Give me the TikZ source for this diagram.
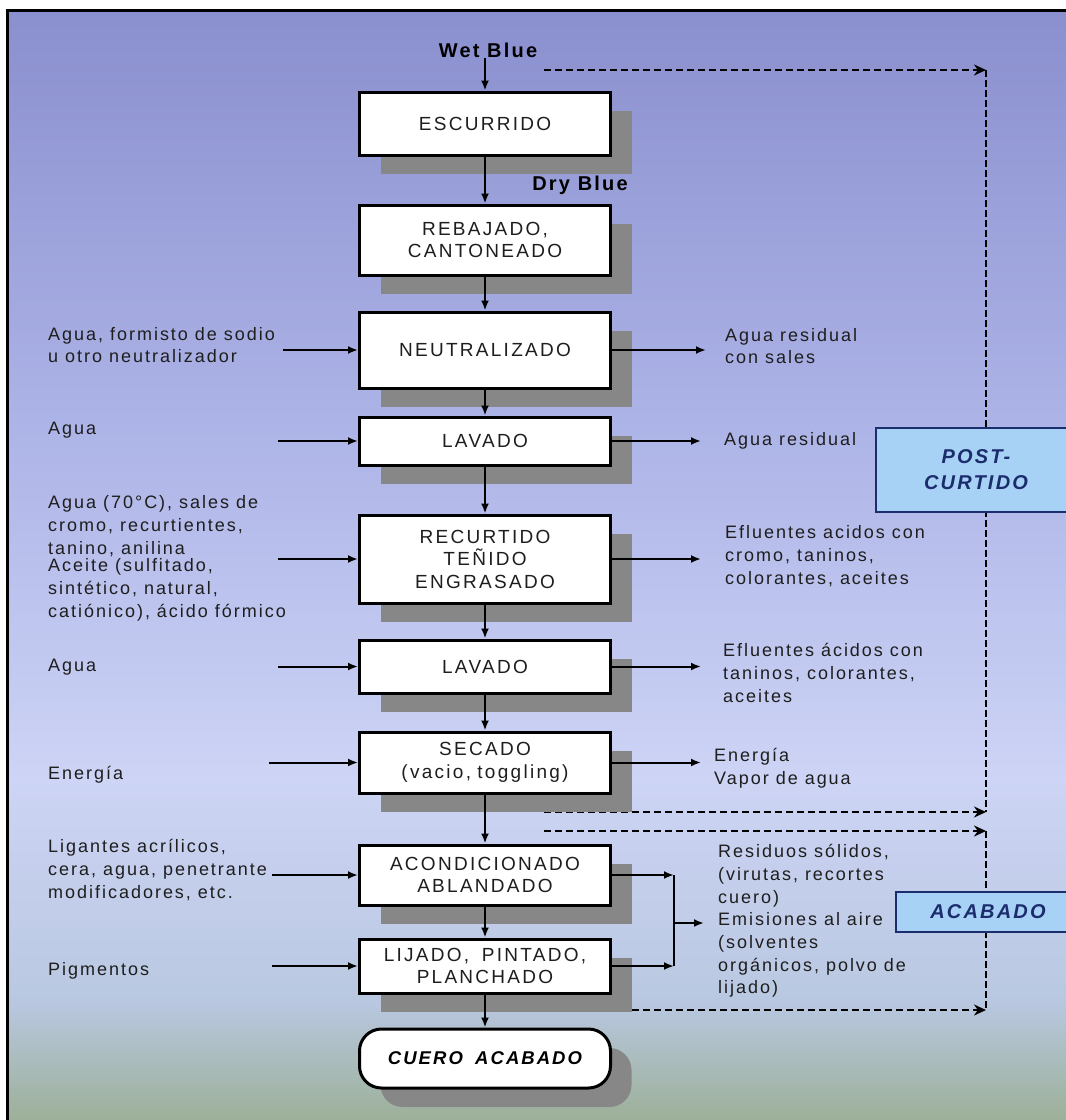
\documentclass[tikz,border=0pt]{standalone}
\usepackage{fontspec}
\setmainfont{Liberation Sans}[LetterSpace=11]
\newfontfamily\boxfont{Liberation Sans}[LetterSpace=12]
\usetikzlibrary{arrows.meta,shadows}
\definecolor{shadowgray}{RGB}{135,135,135}
\definecolor{txt}{RGB}{30,30,30}
\definecolor{stagefill}{RGB}{168,210,245}
\definecolor{stagetext}{RGB}{28,45,110}
\definecolor{bgA}{RGB}{138,143,206}
\definecolor{bgB}{RGB}{175,182,232}
\definecolor{bgC}{RGB}{205,212,245}
\definecolor{bgD}{RGB}{185,200,225}
\definecolor{bgE}{RGB}{155,175,150}
\tikzset{
  procbox/.style={draw=black, line width=3pt, fill=white, minimum width=251pt,
    text width=245pt, align=center, inner sep=0pt,
    font=\boxfont\fontsize{19}{22.5}\selectfont, text=txt,
    drop shadow={shadow xshift=21pt, shadow yshift=-19pt, fill=shadowgray, opacity=1}},
  lbl/.style={anchor=west, align=left, inner sep=0pt,
    font=\fontsize{18}{22.7}\selectfont, text=txt},
  boldlbl/.style={inner sep=0pt, font=\bfseries\fontsize{20}{24}\selectfont, text=black},
  arr/.style={line width=2pt, -{Latex[length=10pt,width=8pt]}},
  plainline/.style={line width=2pt},
  dasharrow/.style={line width=2.5pt, dash pattern=on 7pt off 4pt, -{Stealth[length=12pt,width=11pt]}},
  dashline/.style={line width=2.5pt, dash pattern=on 7pt off 3pt},
  stage/.style={draw=stagetext, line width=1.5pt, fill=stagefill, inner sep=0pt,
    font=\bfseries\itshape\fontsize{20}{26}\selectfont, text=stagetext, align=center}
}
\begin{document}
\begin{tikzpicture}[x=1pt,y=-1pt]
\useasboundingbox (0,0) rectangle (1066,1120);
\clip (0,0) rectangle (1066,1120);
% background
\fill[white] (0,0) rectangle (1066,1120);
\fill[top color=bgA, bottom color=bgB] (7,10) rectangle (1070,451);
\fill[top color=bgB, bottom color=bgC] (7,450) rectangle (1070,781);
\fill[top color=bgC, bottom color=bgD] (7,780) rectangle (1070,1001);
\fill[top color=bgD, bottom color=bgE] (7,1000) rectangle (1070,1125);
\draw[line width=3pt] (7,1130) -- (7,10) -- (1075,10);

% dashed brackets
\coordinate (d1s) at (544,70);  \coordinate (d1e) at (986,70);
\coordinate (d2s) at (544,812); \coordinate (d2e) at (986,812);
\coordinate (d3s) at (544,831); \coordinate (d3e) at (986,831);
\coordinate (d4s) at (544,1010); \coordinate (d4e) at (986,1010);
\draw[dashline] (d1e) -- (d2e);
\draw[dashline] (d3e) -- (d4e);
\draw[dasharrow] (d1s) -- (d1e);
\draw[dasharrow] (d2s) -- (d2e);
\draw[dasharrow] (d3s) -- (d3e);
\draw[dasharrow] (d4s) -- (d4e);

% stage labels
\node[stage, minimum width=200pt, minimum height=84pt] (post) at (976,470) {POST-\\CURTIDO};
\node[stage, minimum width=184pt, minimum height=40pt] (acab) at (988,912) {ACABADO};

% process boxes
\node[procbox, minimum height=63pt] (esc) at (485,123.5) {ESCURRIDO};
\node[procbox, minimum height=70pt] (reb) at (485,240) {REBAJADO,\\CANTONEADO};
\node[procbox, minimum height=76pt] (neu) at (485,350) {NEUTRALIZADO};
\node[procbox, minimum height=48pt] (lav1) at (485,441) {LAVADO};
\node[procbox, minimum height=88pt] (rec) at (485,559) {RECURTIDO\\TEÑIDO\\ENGRASADO};
\node[procbox, minimum height=53pt] (lav2) at (485,666.5) {LAVADO};
\node[procbox, minimum height=61pt] (sec) at (485,762.5) {SECADO\\(vacio, toggling)};
\node[procbox, minimum height=60pt] (aco) at (485,875) {ACONDICIONADO\\ABLANDADO};
\node[procbox, minimum height=54pt] (lij) at (485,966) {LIJADO, \ PINTADO,\\PLANCHADO};
\node[procbox, minimum height=59pt, rounded corners=22pt, text=black,
      font=\bfseries\itshape\fontsize{18.5}{22}\selectfont] (cuero) at (485,1058.5) {CUERO\ \ ACABADO};

% top labels
\node[boldlbl] (wet) at (488,50) {Wet Blue};
\node[boldlbl] (dry) at (580,185) {Dry Blue};

% main flow
\draw[arr] (wet.south -| esc.north) -- (esc.north);
\draw[arr] (esc) -- (reb);
\draw[arr] (reb) -- (neu);
\draw[arr] (neu) -- (lav1);
\draw[arr] (lav1) -- (rec);
\draw[arr] (rec) -- (lav2);
\draw[arr] (lav2) -- (sec);
\draw[arr] (sec) -- (aco);
\draw[arr] (aco) -- (lij);
\draw[arr] (lij) -- (cuero);

% left inputs
\node[lbl] (l1) at (48,345) {Agua, formisto de sodio\\u otro neutralizador};
\node[lbl] (l2) at (48,430) {Agua};
\node[lbl] (l3a) at (48,526) {Agua (70°C), sales de\\cromo, recurtientes,\\tanino, anilina};
\node[lbl] (l3b) at (48,590) {Aceite (sulfitado,\\sintético, natural,\\catiónico), ácido fórmico};
\node[lbl] (l4) at (48,667) {Agua};
\node[lbl] (l5) at (48,775) {Energía};
\node[lbl] (l6) at (48,870) {Ligantes acrílicos,\\cera, agua, penetrante\\modificadores, etc.};
\node[lbl] (l7) at (48,971) {Pigmentos};

\coordinate (i1) at (283,350);
\coordinate (i2) at (278,441);
\coordinate (i3) at (278,559);
\coordinate (i4) at (278,666.5);
\coordinate (i5) at (269,762.5);
\coordinate (i6) at (272,875);
\coordinate (i7) at (272,966);
\draw[arr] (i1) -- (neu);
\draw[arr] (i2) -- (lav1);
\draw[arr] (i3) -- (rec);
\draw[arr] (i4) -- (lav2);
\draw[arr] (i5) -- (sec);
\draw[arr] (i6) -- (aco);
\draw[arr] (i7) -- (lij);

% right outputs
\node[lbl] (r1) at (725,346) {Agua residual\\con sales};
\node[lbl] (r2) at (724,441) {Agua residual};
\node[lbl] (r3) at (725,556) {Efluentes acidos con\\cromo, taninos,\\colorantes, aceites};
\node[lbl] (r4) at (723,673) {Efluentes ácidos con\\taninos, colorantes,\\aceites};
\node[lbl] (r5) at (714,768) {Energía\\Vapor de agua};
\node[lbl] (r6) at (718,921) {Residuos sólidos,\\(virutas, recortes\\cuero)\\Emisiones al aire\\(solventes\\orgánicos, polvo de\\lijado)};

\coordinate (o1) at (706,350);
\coordinate (o2) at (701,441);
\coordinate (o3) at (701,559);
\coordinate (o4) at (701,666.5);
\coordinate (o5) at (701,762.5);
\coordinate (m1) at (674,875);
\coordinate (m2) at (674,966);
\coordinate (m3) at (674,923);
\coordinate (o6) at (704,923);
\draw[arr] (neu) -- (o1);
\draw[arr] (lav1) -- (o2);
\draw[arr] (rec) -- (o3);
\draw[arr] (lav2) -- (o4);
\draw[arr] (sec) -- (o5);
\draw[arr] (aco) -- (m1);
\draw[arr] (lij) -- (m2);
\draw[plainline] (m1) -- (m2);
\draw[arr] (m3) -- (o6);
\end{tikzpicture}
\end{document}
